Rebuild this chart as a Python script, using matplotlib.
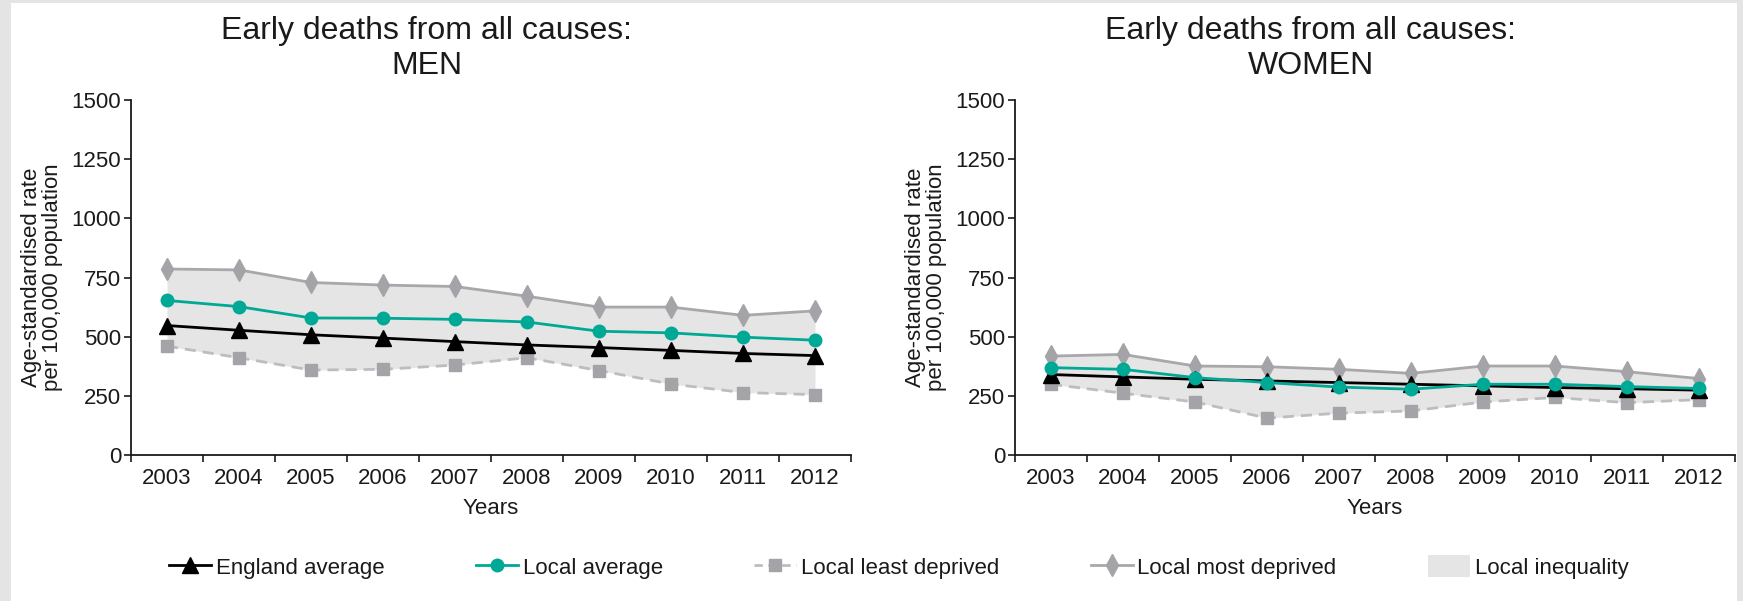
"""Early deaths from all causes, men vs women, 2003-2012: England average,
local average, least/most deprived and the local inequality band between them."""
import matplotlib
matplotlib.use("Agg")
import matplotlib.pyplot as plt
from matplotlib.lines import Line2D
from matplotlib.patches import Patch, Rectangle
import numpy as np

YEARS = ["2003", "2004", "2005", "2006", "2007", "2008", "2009", "2010", "2011", "2012"]

MEN_ENGLAND = [547, 527, 508, 494, 479, 465, 454, 442, 429, 420]
MEN_LOCAL = [653, 627, 579, 578, 573, 562, 523, 516, 498, 485]
MEN_LEAST = [460, 411, 359, 362, 380, 411, 357, 300, 264, 255]
MEN_MOST = [786, 782, 729, 718, 712, 671, 625, 625, 590, 609]

WOMEN_ENGLAND = [340, 330, 320, 313, 306, 299, 292, 285, 280, 274]
WOMEN_LOCAL = [369, 362, 327, 306, 287, 278, 299, 299, 289, 281]
WOMEN_LEAST = [299, 261, 224, 156, 177, 186, 224, 243, 221, 234]
WOMEN_MOST = [418, 425, 376, 373, 362, 345, 376, 376, 352, 323]

Y_TICKS = [0, 250, 500, 750, 1000, 1250, 1500]

TEAL = "#00A896"
GREY_LINE = "#A8A8AC"
GREY_DASH = "#BDBDC0"
GREY_MARK = "#A4A4A8"
FILL = "#E5E5E5"
INK = "#1A1A1A"

plt.rcParams.update({
    "font.family": ["Liberation Sans", "DejaVu Sans"],
    "font.size": 16,
    "axes.edgecolor": INK, "axes.linewidth": 1.3,
    "xtick.color": INK, "ytick.color": INK, "text.color": INK,
    "axes.labelcolor": INK,
})

W, H = 1743, 601
fig = plt.figure(figsize=(W / 100, H / 100), dpi=100, facecolor="#E4E4E4")
# white page inside the thin grey frame
fig.add_artist(Rectangle((11 / W, 0), (1737 - 11) / W, (H - 3) / H,
                         transform=fig.transFigure, facecolor="white",
                         edgecolor="none", zorder=-10))


def panel(left_px, title, england, local, least, most):
    ax = fig.add_axes([left_px / W, (H - 455) / H, 720 / W, 355 / H])
    ax.set_facecolor("none")
    x = np.arange(len(YEARS))
    ax.fill_between(x, least, most, color=FILL, lw=0, zorder=1)
    ax.plot(x, least, color=GREY_DASH, lw=2, ls=(0, (4, 2.5)), marker="s", ms=8,
            mfc=GREY_MARK, mec=GREY_MARK, zorder=2)
    ax.plot(x, most, color=GREY_LINE, lw=2, marker="d", ms=11,
            mfc=GREY_MARK, mec=GREY_MARK, zorder=3)
    ax.plot(x, england, color="black", lw=2, marker="^", ms=11,
            mfc="black", mec="black", zorder=4)
    ax.plot(x, local, color=TEAL, lw=2, marker="o", ms=9,
            mfc=TEAL, mec=TEAL, zorder=5)

    ax.set_xlim(-0.5, len(YEARS) - 0.5)
    ax.set_ylim(0, 1500)
    ax.set_xticks(x)
    ax.set_xticklabels(YEARS)
    ax.set_xticks(np.arange(-0.5, len(YEARS)), minor=True)
    ax.tick_params(axis="x", which="major", length=0, pad=9)
    ax.tick_params(axis="x", which="minor", length=5, width=1.2)
    ax.set_yticks(Y_TICKS)
    ax.tick_params(axis="y", length=5, width=1.2, pad=2)
    for s in ("top", "right"):
        ax.spines[s].set_visible(False)

    ax.set_xlabel("Years", labelpad=7)
    ax.set_ylabel("Age-standardised rate\nper 100,000 population",
                  fontsize=16, linespacing=1.0)
    ax.yaxis.set_label_coords(-0.094, 0.5)
    ax.set_title(title, x=0.411, y=1.238, pad=0, va="top",
                 fontsize=23, linespacing=1.25)
    return ax


panel(131, "Early deaths from all causes:\nMEN", MEN_ENGLAND, MEN_LOCAL, MEN_LEAST, MEN_MOST)
panel(1015, "Early deaths from all causes:\nWOMEN", WOMEN_ENGLAND, WOMEN_LOCAL, WOMEN_LEAST, WOMEN_MOST)

handles = [
    Line2D([], [], color="black", lw=2, marker="^", ms=11),
    Line2D([], [], color=TEAL, lw=2, marker="o", ms=9),
    Line2D([], [], color=GREY_DASH, lw=2, ls=(0, (3, 2)), marker="s", ms=8,
           mfc=GREY_MARK, mec=GREY_MARK),
    Line2D([], [], color=GREY_LINE, lw=2, marker="d", ms=11,
           mfc=GREY_MARK, mec=GREY_MARK),
    Patch(facecolor=FILL, edgecolor="none"),
]
labels = ["England average", "Local average", "Local least deprived",
          "Local most deprived", "Local inequality"]
fig.legend(handles, labels, loc="center left", bbox_to_anchor=(169 / W, 1 - 567 / H),
           ncol=5, frameon=False, fontsize=16, borderpad=0, borderaxespad=0,
           handlelength=1.9, handletextpad=0.2, columnspacing=4.12, handleheight=1.1)

fig.savefig("out.png", dpi=100, facecolor=fig.get_facecolor())
